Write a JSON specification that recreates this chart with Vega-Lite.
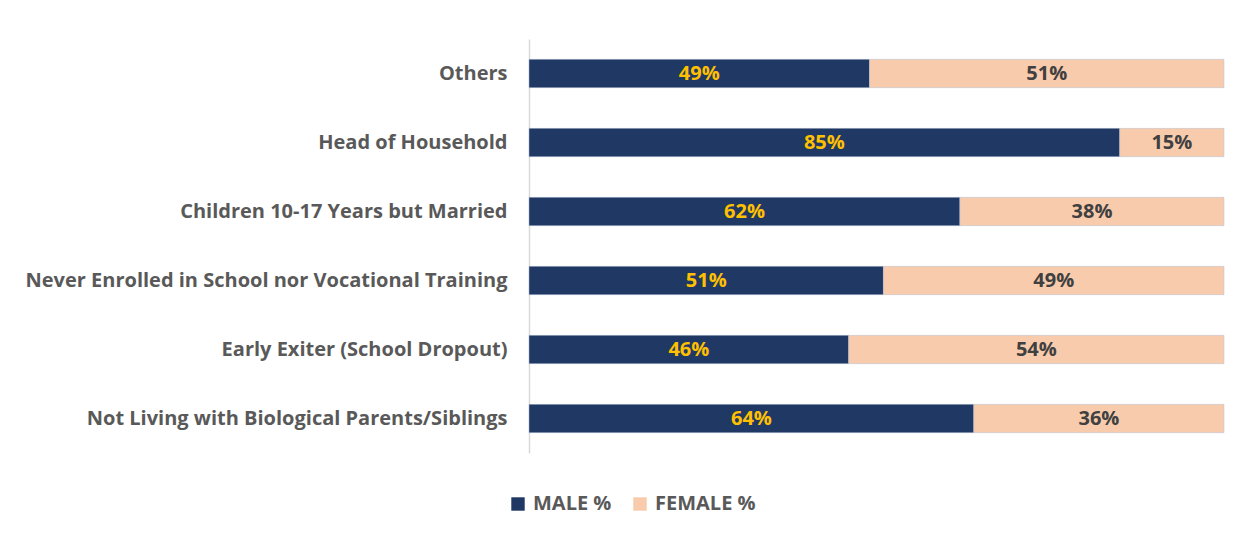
{
  "$schema": "https://vega.github.io/schema/vega-lite/v6.json",
  "autosize": "none",
  "width": 695,
  "height": 414,
  "padding": {"left": 529, "top": 39, "right": 20, "bottom": 82},
  "background": "white",
  "config": {"view": {"stroke": null}, "font": "Open Sans"},
  "data": {"values": [
    {"cat": "Others", "gender": "MALE %", "value": 49},
    {"cat": "Others", "gender": "FEMALE %", "value": 51},
    {"cat": "Head of Household", "gender": "MALE %", "value": 85},
    {"cat": "Head of Household", "gender": "FEMALE %", "value": 15},
    {"cat": "Children 10-17 Years but Married", "gender": "MALE %", "value": 62},
    {"cat": "Children 10-17 Years but Married", "gender": "FEMALE %", "value": 38},
    {"cat": "Never Enrolled in School nor Vocational Training", "gender": "MALE %", "value": 51},
    {"cat": "Never Enrolled in School nor Vocational Training", "gender": "FEMALE %", "value": 49},
    {"cat": "Early Exiter (School Dropout)", "gender": "MALE %", "value": 46},
    {"cat": "Early Exiter (School Dropout)", "gender": "FEMALE %", "value": 54},
    {"cat": "Not Living with Biological Parents/Siblings", "gender": "MALE %", "value": 64},
    {"cat": "Not Living with Biological Parents/Siblings", "gender": "FEMALE %", "value": 36}
  ]},
  "transform": [
    {"calculate": "datum.gender == 'MALE %' ? 0 : 1", "as": "ord"},
    {"stack": "value", "groupby": ["cat"], "sort": [{"field": "ord", "order": "ascending"}], "as": ["v0", "v1"]},
    {"calculate": "(datum.v0 + datum.v1) / 2", "as": "mid"},
    {"calculate": "datum.value + '%'", "as": "label"}
  ],
  "encoding": {
    "y": {
      "field": "cat", "type": "nominal", "sort": null,
      "scale": {"paddingInner": 0.59, "paddingOuter": 0.295},
      "axis": {
        "title": null, "domainColor": "#D9D9D9", "domainWidth": 1.5, "ticks": false,
        "labelFont": "Open Sans", "labelFontWeight": "bold", "labelFontSize": 20,
        "labelColor": "#595959", "labelPadding": 22, "labelLimit": 700
      }
    }
  },
  "layer": [
    {
      "mark": {"type": "bar", "stroke": "#B4C0D4", "strokeWidth": 0.5},
      "encoding": {
        "x": {"field": "v0", "type": "quantitative", "scale": {"domain": [0, 100], "nice": false}, "axis": null},
        "x2": {"field": "v1"},
        "color": {
          "field": "gender", "type": "nominal",
          "scale": {"domain": ["MALE %", "FEMALE %"], "range": ["#203864", "#F8CBAD"]},
          "legend": {
            "title": null, "orient": "none", "direction": "horizontal",
            "legendX": -21, "legendY": 455,
            "symbolType": "square", "symbolSize": 180, "symbolStrokeWidth": 0,
            "labelFont": "Open Sans", "labelFontWeight": "bold", "labelFontSize": 20,
            "labelColor": "#595959", "columnPadding": 18, "labelOffset": 5
          }
        }
      }
    },
    {
      "mark": {"type": "text", "font": "Open Sans", "fontWeight": "bold", "fontSize": 20},
      "encoding": {
        "x": {"field": "mid", "type": "quantitative"},
        "text": {"field": "label", "type": "nominal"},
        "color": {
          "condition": {"test": "datum.gender == 'MALE %'", "value": "#FFC000"},
          "value": "#404040"
        }
      }
    }
  ]
}
